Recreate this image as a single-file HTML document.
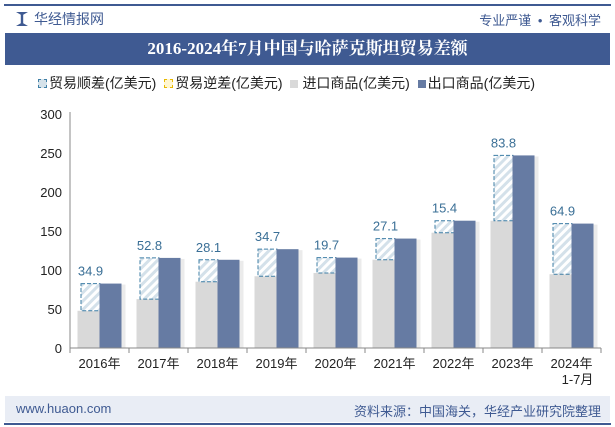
<!DOCTYPE html>
<html><head><meta charset="utf-8"><style>
body{margin:0;width:615px;height:427px;overflow:hidden;background:#fff;font-family:"Liberation Sans","Noto Sans CJK SC",sans-serif;position:relative}
.abs{position:absolute}
</style></head><body>
<div class="abs" style="left:4px;top:4px;width:607px;height:2px;background:#3f5a92"></div>
<div class="abs" style="left:16px;top:12px;width:12px;height:14px;background:#3f5a92;clip-path:polygon(0 0,40% 20%,40% 80%,0 100%,100% 100%,60% 80%,60% 20%,100% 0)"></div>
<div class="abs" style="left:34px;top:9px;font-size:14px;color:#3f5a92">华经情报网</div>
<div class="abs" style="right:14px;top:10px;font-size:13px;color:#3f5a92;word-spacing:3px">专业严谨 • 客观科学</div>
<div class="abs" style="left:5px;top:33px;width:605px;height:32px;line-height:32px;background:#3f5a92;color:#fff;text-align:center;font-size:17px;font-weight:bold;font-family:'Liberation Serif','Noto Serif CJK SC',serif">2016-2024年7月中国与哈萨克斯坦贸易差额</div>
<div class="abs" style="left:38px;top:73px;font-size:14px;color:#222;white-space:nowrap">
<span><span style="display:inline-block;width:7px;height:7px;border:1px dashed #3f7fa6;background:#d5e2ea;margin-right:2px"></span>贸易顺差(亿美元)</span>
<span style="margin-left:4px"><span style="display:inline-block;width:7px;height:7px;border:1px dashed #e8b800;background:#fff6d0;margin-right:2px"></span>贸易逆差(亿美元)</span>
<span style="margin-left:4px"><span style="display:inline-block;width:8px;height:8px;background:#d9d9d9;margin-right:4px"></span>进口商品(亿美元)</span>
<span style="margin-left:4px"><span style="display:inline-block;width:8px;height:8px;background:#667ba3;margin-right:2px"></span>出口商品(亿美元)</span>
</div>
<svg class="abs" style="left:0;top:0" width="615" height="427">
<defs><pattern id="h" width="6" height="6" patternUnits="userSpaceOnUse" patternTransform="rotate(45)"><rect width="6" height="6" fill="#fff"/><rect width="3" height="6" fill="#d4e1ea"/></pattern></defs>
<g id="g"></g>
</svg>
<div class="abs" style="left:5px;top:396px;width:605px;height:26px;background:#e9edf5"></div>
<div class="abs" style="left:4px;top:423px;width:607px;height:2px;background:#3f5a92"></div>
<div class="abs" style="left:16px;top:401px;font-size:13px;color:#3f5a92">www.huaon.com</div>
<div class="abs" style="right:14px;top:401px;font-size:13px;color:#3f5a92">资料来源：中国海关，华经产业研究院整理</div>
<script>
const categories=["2016年","2017年","2018年","2019年","2020年","2021年","2022年","2023年","2024年"];
const exportVals=[82.6,115.5,113.1,126.7,115.9,140.3,163.2,246.9,159.5];
const importVals=[47.7,62.7,85.0,92.0,96.2,113.2,147.8,163.1,94.6];
const surplus=[34.9,52.8,28.1,34.7,19.7,27.1,15.4,83.8,64.9];
const yTicks=[0,50,100,150,200,250,300];
const NS="http://www.w3.org/2000/svg",g=document.getElementById('g');
const x0=70,step=59,y0=348,k=0.78;
const y=v=>y0-v*k, cx=i=>x0+step*(i+0.5);
function mk(t,a){const e=document.createElementNS(NS,t);for(const n in a)e.setAttribute(n,a[n]);g.appendChild(e);return e;}
yTicks.forEach(v=>{const t=mk('text',{x:x0-8,y:y(v)+5,'text-anchor':'end','font-size':13,fill:'#222'});t.textContent=v;

});
const ax=mk('line',{x1:x0,y1:y(300)-2,x2:x0,y2:y0,stroke:'#888'});


categories.forEach((c,i)=>{
 const c0=cx(i);
 const imp=mk('rect',{x:c0-22,y:y(importVals[i]),width:23,height:importVals[i]*k,fill:'#d9d9d9'});
 
 
 const top=importVals[i]+surplus[i];
 const hs=mk('rect',{x:c0-18.5,y:y(top),width:19,height:surplus[i]*k,fill:'url(#h)',stroke:'#3f7fa6','stroke-dasharray':'4,2','stroke-width':1});
 
 
 mk('rect',{x:c0+1,y:y(exportVals[i])+1,width:25,height:exportVals[i]*k-1,fill:'#000',opacity:0.08});
 const ex=mk('rect',{x:c0,y:y(exportVals[i]),width:22,height:exportVals[i]*k,fill:'#667ba3'});
 
 
 const lb=mk('text',{x:c0-9,y:y(top)-8,'text-anchor':'middle','font-size':13,fill:'#3a6f96'});lb.textContent=surplus[i].toFixed(1);
 
 
 const tl=mk('text',{x:c0,y:368,'text-anchor':'middle','font-size':13,fill:'#222'});tl.textContent=c;
 
 
 mk('line',{x1:x0+step*i,y1:y0,x2:x0+step*i,y2:y0+5,stroke:'#888'});
});
mk('line',{x1:x0+step*9,y1:y0,x2:x0+step*9,y2:y0+5,stroke:'#888'});
const sub=mk('text',{x:cx(8)+6,y:384,'text-anchor':'middle','font-size':13,fill:'#222'});sub.textContent='1-7月';


const xa=mk('line',{x1:x0,y1:y0,x2:x0+step*9,y2:y0,stroke:'#888'});


</script>
</body></html>
